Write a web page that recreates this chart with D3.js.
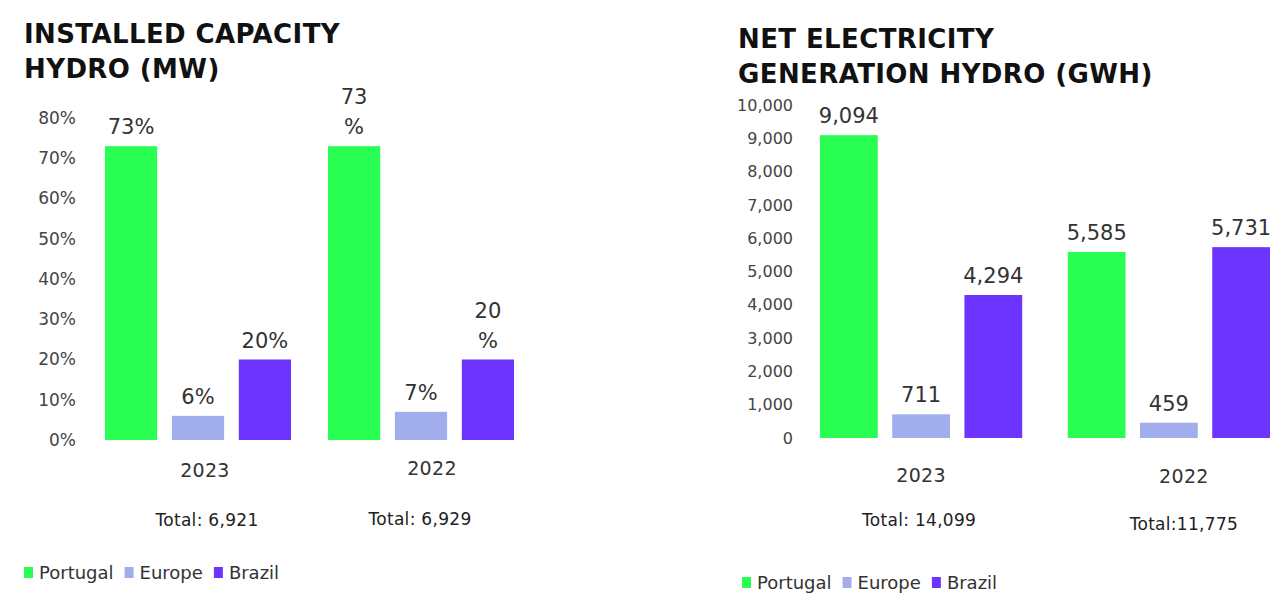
<!DOCTYPE html>
<html>
<head>
<meta charset="utf-8">
<script src="https://cdn.jsdelivr.net/npm/d3@7"></script>
<style>
    body { margin: 0; background: #fff; }
    svg { display: block; font-family: "DejaVu Sans", "Liberation Sans", sans-serif; }
    .title { font-weight: 700; fill: #111; font-size: 26px; letter-spacing: 0.4px; }
    .tick-label { fill: #444; }
    .value { fill: #333; font-size: 21px; }
    .cat { fill: #333; font-size: 19px; letter-spacing: 0.3px; }
    .total { fill: #222; font-size: 17px; letter-spacing: 0.3px; }
    .legend { fill: #333; font-size: 18px; }
</style>
</head>
<body>
<svg id="chart" width="1272" height="594"></svg>
<script>
// series and colours
const series = ["Portugal", "Europe", "Brazil"];
const colors = ["#28ff52", "#a2aeec", "#6d33ff"];
const years = ["2023", "2022"];

// installed capacity hydro (share of MW)
const capacity2023 = [0.73, 0.06, 0.20];
const capacity2022 = [0.73, 0.07, 0.20];
const capacityTotals = ["Total: 6,921", "Total: 6,929"];
const capacityTicks = [0, 0.1, 0.2, 0.3, 0.4, 0.5, 0.6, 0.7, 0.8];
// labels as they appear (2022 ones wrap onto two lines)
const capacityLabels = [["73%", "6%", "20%"], [["73", "%"], "7%", ["20", "%"]]];

// net electricity generation hydro (GWh)
const generation2023 = [9094, 711, 4294];
const generation2022 = [5585, 459, 5731];
const generationTotals = ["Total: 14,099", "Total:11,775"];
const generationTicks = [0, 1000, 2000, 3000, 4000, 5000, 6000, 7000, 8000, 9000, 10000];

let svg = d3.select("#chart");

/**
 * Draws one grouped bar panel
 */
function drawPanel(cfg) {
    let g = svg.append("g");

    // title
    cfg.title.forEach((line, i) => {
        g.append("text").attr("class", "title")
            .attr("x", cfg.titleX).attr("y", cfg.titleY + i * 35)
            .text(line);
    });

    let y = d3.scaleLinear().domain(cfg.domain).range([cfg.base, cfg.top]);
    let x0 = d3.scaleBand().domain(years).range(cfg.xRange).paddingInner(cfg.groupPad);
    let x1 = d3.scaleBand().domain(series).range([0, x0.bandwidth()]).paddingInner(cfg.barPad);

    // y axis, labels only
    let axis = d3.axisLeft(y).tickValues(cfg.ticks).tickFormat(cfg.fmt).tickSize(0).tickPadding(0);
    let ax = g.append("g").attr("transform", `translate(${cfg.axisX},0)`).call(axis);
    ax.select(".domain").remove();
    ax.selectAll("text").attr("class", "tick-label").attr("fill", null)
        .attr("font-family", null).attr("font-size", cfg.tickSize);
    ax.attr("font-size", null).attr("font-family", null);

    years.forEach((yr, gi) => {
        let vals = cfg.values[gi];
        let grp = g.append("g").attr("transform", `translate(${x0(yr)},0)`);

        grp.selectAll("rect").data(vals).enter().append("rect")
            .attr("x", (d, i) => x1(series[i]))
            .attr("y", d => y(d))
            .attr("width", x1.bandwidth())
            .attr("height", d => y(0) - y(d))
            .attr("fill", (d, i) => colors[i]);

        vals.forEach((v, i) => {
            let lab = cfg.labels[gi][i];
            let lines = Array.isArray(lab) ? lab : [lab];
            let cx = x1(series[i]) + x1.bandwidth() / 2;
            lines.forEach((ln, li) => {
                grp.append("text").attr("class", "value")
                    .attr("x", cx)
                    .attr("y", y(v) - 12 - (lines.length - 1 - li) * 30)
                    .attr("text-anchor", "middle")
                    .text(ln);
            });
        });

        let cx = x0(yr) + x0.bandwidth() / 2;
        g.append("text").attr("class", "cat")
            .attr("x", cx + cfg.catDx[gi]).attr("y", cfg.catY[gi])
            .attr("text-anchor", "middle").text(yr);
        g.append("text").attr("class", "total")
            .attr("x", cx + cfg.totDx[gi]).attr("y", cfg.totY[gi])
            .attr("text-anchor", "middle").text(cfg.totals[gi]);
    });

    // legend
    let leg = g.append("g");
    let lx = cfg.legendX;
    series.forEach((s, i) => {
        leg.append("rect").attr("x", lx).attr("y", cfg.legendY - 12)
            .attr("width", 9).attr("height", 11).attr("fill", colors[i]);
        let t = leg.append("text").attr("class", "legend")
            .attr("x", lx + 15).attr("y", cfg.legendY).text(s);
        lx += 15 + t.node().getComputedTextLength() + 11;
    });
}

drawPanel({
    title: ["INSTALLED CAPACITY", "HYDRO (MW)"],
    titleX: 24, titleY: 43,
    domain: [0, 0.8], base: 440, top: 118,
    ticks: capacityTicks, fmt: d3.format(".0%"), axisX: 76, tickSize: "17px",
    xRange: [105, 514], groupPad: 0.166, barPad: 0.22,
    values: [capacity2023, capacity2022],
    labels: capacityLabels,
    catDx: [7, 11], catY: [477, 475],
    totDx: [9, -1], totY: [526, 525],
    totals: capacityTotals,
    legendX: 24, legendY: 579
});

drawPanel({
    title: ["NET ELECTRICITY", "GENERATION HYDRO (GWH)"],
    titleX: 738, titleY: 48,
    domain: [0, 10000], base: 438, top: 105,
    ticks: generationTicks, fmt: d3.format(","), axisX: 793, tickSize: "16px",
    xRange: [820, 1270], groupPad: 0.184, barPad: 0.2,
    values: [generation2023, generation2022],
    labels: [generation2023.map(d3.format(",")), generation2022.map(d3.format(","))],
    catDx: [0, 15], catY: [482, 483],
    totDx: [-2, 15], totY: [526, 530],
    totals: generationTotals,
    legendX: 742, legendY: 589
});
</script>
</body>
</html>
